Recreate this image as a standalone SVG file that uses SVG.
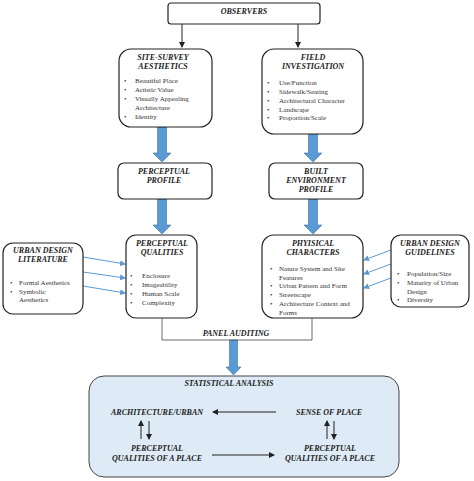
<svg xmlns="http://www.w3.org/2000/svg" width="474" height="481" viewBox="0 0 474 481">
<style>
.box{fill:#fff;stroke:#222;stroke-width:1.2}
.t{font-family:"Liberation Serif",serif;font-weight:bold;font-style:italic;font-size:8px;fill:#222;text-anchor:middle}
.b{font-family:"Liberation Serif",serif;font-size:7px;fill:#333}
.blk{stroke:#222;stroke-width:1;fill:none}
.thin{stroke:#5b9bd5;stroke-width:1;fill:none}
.big{fill:#5b9bd5;stroke:#41719c;stroke-width:0.6}
</style>
<defs>
<marker id="ah" markerWidth="6" markerHeight="6" refX="5" refY="3" orient="auto" markerUnits="userSpaceOnUse"><path d="M0,0 L6,3 L0,6 z" fill="#222"/></marker>
<marker id="bh" markerWidth="6" markerHeight="6" refX="5" refY="3" orient="auto" markerUnits="userSpaceOnUse"><path d="M0,0 L6,3 L0,6 z" fill="#5b9bd5"/></marker>
</defs>
<rect width="474" height="481" fill="#fff"/>

<g id="connectors">
<line class="blk" x1="182" y1="24" x2="182" y2="47" marker-end="url(#ah)"/>
<line class="blk" x1="298" y1="24" x2="298" y2="47" marker-end="url(#ah)"/>
<polygon class="big" points="157.5,127 166.5,127 166.5,153 171,153 162,162 153,153 157.5,153"/>
<polygon class="big" points="308.5,134 317.5,134 317.5,153 322,153 313,162 304,153 308.5,153"/>
<polygon class="big" points="157.5,199 166.5,199 166.5,225 171,225 162,234 153,225 157.5,225"/>
<polygon class="big" points="308.5,199 317.5,199 317.5,225 322,225 313,234 304,225 308.5,225"/>
<polygon class="big" points="229.5,340 237.5,340 237.5,367 241,367 233.5,375 226,367 229.5,367"/>
<line class="thin" x1="83" y1="257" x2="125" y2="264" marker-end="url(#bh)"/>
<line class="thin" x1="83" y1="272" x2="125" y2="278" marker-end="url(#bh)"/>
<line class="thin" x1="83" y1="286" x2="125" y2="293" marker-end="url(#bh)"/>
<line class="thin" x1="391" y1="250" x2="364" y2="260" marker-end="url(#bh)"/>
<line class="thin" x1="391" y1="264" x2="364" y2="274" marker-end="url(#bh)"/>
<line class="thin" x1="391" y1="278" x2="364" y2="288" marker-end="url(#bh)"/>
</g>

<g id="observers">
<rect class="box" x="168" y="3" width="152" height="21" rx="3"/>
<text class="t" x="244" y="14">OBSERVERS</text>
</g>

<g id="site-survey">
<rect class="box" x="119" y="49" width="93" height="78" rx="12"/>
<text class="t" x="163" y="60">SITE-SURVEY</text>
<text class="t" x="163" y="69">AESTHETICS</text>
<g class="b">
<text x="124" y="83">•</text><text x="135" y="83">Beautiful Place</text>
<text x="124" y="92">•</text><text x="135" y="92">Artistic Value</text>
<text x="124" y="101">•</text><text x="135" y="101">Visually Appealing</text>
<text x="135" y="110">Architecture</text>
<text x="124" y="119">•</text><text x="135" y="119">Identity</text>
</g>
</g>

<g id="field">
<rect class="box" x="262" y="49" width="101" height="85" rx="12"/>
<text class="t" x="313" y="60">FIELD</text>
<text class="t" x="313" y="69">INVESTIGATION</text>
<g class="b">
<text x="267" y="85">•</text><text x="279" y="85">Use/Function</text>
<text x="267" y="94">•</text><text x="279" y="94">Sidewalk/Seating</text>
<text x="267" y="103">•</text><text x="279" y="103">Architectural Character</text>
<text x="267" y="112">•</text><text x="279" y="112">Landscape</text>
<text x="267" y="120">•</text><text x="279" y="120">Proportion/Scale</text>
</g>
</g>

<g id="perceptual-profile">
<rect class="box" x="118" y="163" width="94" height="36" rx="6"/>
<text class="t" x="164" y="174">PERCEPTUAL</text>
<text class="t" x="164" y="183">PROFILE</text>
</g>

<g id="built-profile">
<rect class="box" x="269" y="163" width="94" height="36" rx="6"/>
<text class="t" x="316" y="174">BUILT</text>
<text class="t" x="316" y="183">ENVIRONMENT</text>
<text class="t" x="316" y="192">PROFILE</text>
</g>

<g id="literature">
<rect class="box" x="3" y="243" width="80" height="71" rx="10"/>
<text class="t" x="43" y="253">URBAN DESIGN</text>
<text class="t" x="43" y="262">LITERATURE</text>
<g class="b">
<text x="10" y="285">•</text><text x="19" y="285">Formal Aesthetics</text>
<text x="10" y="294">•</text><text x="19" y="294">Symbolic</text>
<text x="19" y="302">Aesthetics</text>
</g>
</g>

<g id="perceptual-qualities">
<rect class="box" x="126" y="235" width="71" height="83" rx="10"/>
<text class="t" x="162" y="246">PERCEPTUAL</text>
<text class="t" x="162" y="255">QUALITIES</text>
<g class="b">
<text x="130" y="278">•</text><text x="142" y="278">Enclosure</text>
<text x="130" y="287">•</text><text x="142" y="287">Imageability</text>
<text x="130" y="296">•</text><text x="142" y="296">Human Scale</text>
<text x="130" y="305">•</text><text x="142" y="305">Complexity</text>
</g>
</g>

<g id="physical">
<rect class="box" x="262" y="235" width="101" height="83" rx="12"/>
<text class="t" x="313" y="246">PHYISICAL</text>
<text class="t" x="313" y="255">CHARACTERS</text>
<svg x="262" y="235" width="101" height="82" overflow="hidden">
<g class="b" transform="translate(-262,-235)">
<text x="270" y="271">•</text><text x="279" y="271">Nature System and Site</text>
<text x="279" y="280">Features</text>
<text x="270" y="288">•</text><text x="279" y="288">Urban Pattern and Form</text>
<text x="270" y="297">•</text><text x="279" y="297">Streetscape</text>
<text x="270" y="306">•</text><text x="279" y="306">Architecture Context and</text>
<text x="279" y="315">Forms</text>
</g>
</svg>
</g>

<g id="guidelines">
<rect class="box" x="391" y="235" width="78" height="72" rx="10"/>
<text class="t" x="430" y="246">URBAN DESIGN</text>
<text class="t" x="430" y="255">GUIDELINES</text>
<g class="b">
<text x="397" y="276">•</text><text x="407" y="276">Population/Size</text>
<text x="397" y="285">•</text><text x="407" y="285">Maturity of Urban</text>
<text x="407" y="294">Design</text>
<text x="397" y="302">•</text><text x="407" y="302">Diversity</text>
</g>
</g>

<g id="panel-auditing">
<path d="M162,318 V340 H312 V318" fill="none" stroke="#444" stroke-width="0.8"/>
<text class="t" x="236" y="336">PANEL AUDITING</text>
</g>

<g id="statistical-analysis">
<rect x="89" y="376" width="310" height="101" rx="15" fill="#deebf6" stroke="#444" stroke-width="1"/>
<text class="t" x="229" y="386">STATISTICAL ANALYSIS</text>
<text class="t" x="157" y="415">ARCHITECTURE/URBAN</text>
<text class="t" x="329" y="415">SENSE OF PLACE</text>
<text class="t" x="157" y="451">PERCEPTUAL</text>
<text class="t" x="157" y="461">QUALITIES OF A PLACE</text>
<text class="t" x="330" y="451">PERCEPTUAL</text>
<text class="t" x="330" y="461">QUALITIES OF A PLACE</text>
<g class="blk">
<line x1="276" y1="412" x2="213" y2="412" marker-end="url(#ah)"/>
<line x1="212" y1="455" x2="274" y2="455" marker-end="url(#ah)"/>
<line x1="141" y1="439" x2="141" y2="421" marker-end="url(#ah)"/>
<line x1="149" y1="421" x2="149" y2="439" marker-end="url(#ah)"/>
<line x1="327" y1="439" x2="327" y2="421" marker-end="url(#ah)"/>
<line x1="334" y1="421" x2="334" y2="439" marker-end="url(#ah)"/>
</g>
</g>
</svg>
